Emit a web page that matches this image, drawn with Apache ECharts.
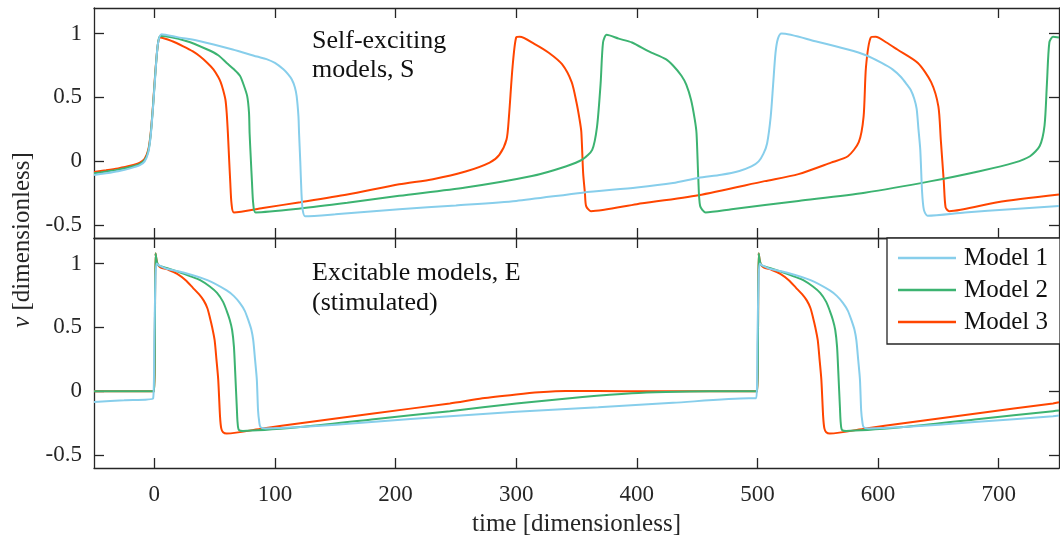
<!DOCTYPE html>
<html>
<head>
<meta charset="utf-8">
<script src="https://cdn.jsdelivr.net/npm/echarts@6/dist/echarts.min.js"></script>
<style>
  html, body { margin: 0; padding: 0; background: #fff; }
  #main { width: 1060px; height: 545px; }
</style>
</head>
<body>
<div id="main"></div>
<script>
// tick labels
var timeTicks = [0, 100, 200, 300, 400, 500, 600, 700];
var vTicks = [-0.5, 0, 0.5, 1];
var modelNames = ['Model 1', 'Model 2', 'Model 3'];
var modelColors = ['#87CEEB', '#3CB371', '#FF4500'];

// self-exciting models, S  [time, v]
var selfModel1 = [
	[-50,-0.107],[-40,-0.093],[-30,-0.077],[-20,-0.055],[-12,-0.03],[-8,0.0],[-5,0.07],[-3,0.2],[-1,0.43],[1,0.7],[3,0.92],[6,0.995],
	[20,0.97],[38,0.94],[65,0.875],[85,0.82],[93,0.80],[100,0.77],[107,0.72],[111,0.68],[114,0.64],[116.5,0.58],[118,0.51],[119.5,0.35],[120,0.22],[121,0.0],[122,-0.25],[123,-0.38],[125,-0.43],
	[150,-0.415],[203,-0.375],[250,-0.345],[300,-0.31],[355,-0.245],[400,-0.205],[430,-0.17],[451,-0.13],[470,-0.105],[485,-0.075],[495,-0.04],[501,0.0],[505,0.06],[508,0.14],[511,0.35],[513,0.6],[515,0.85],[517,0.96],[520,1.0],
	[548,0.94],[575,0.875],[590,0.83],[603,0.77],[612,0.72],[619,0.66],[624,0.6],[627,0.56],[630,0.49],[632,0.41],[633.5,0.25],[635,0.09],[636.5,-0.24],[638,-0.38],[641,-0.425],
	[672,-0.40],[710,-0.375],[750,-0.35]
];
var selfModel2 = [
	[-50,-0.094],[-40,-0.08],[-30,-0.065],[-20,-0.045],[-12,-0.02],[-8,0.01],[-5,0.08],[-3,0.21],[-1,0.44],[1,0.71],[3,0.92],[5,0.98],
	[27,0.94],[44,0.875],[53,0.83],[60,0.77],[66,0.72],[71,0.67],[74,0.6],[77,0.51],[78.5,0.38],[79,0.22],[80,0.02],[81,-0.17],[82,-0.33],[84,-0.40],
	[121,-0.37],[160,-0.325],[203,-0.27],[258,-0.205],[313,-0.115],[341,-0.04],[355,0.015],[363,0.09],[367,0.27],[370,0.61],[372,0.93],[375,0.99],
	[385,0.96],[396,0.93],[410,0.86],[424,0.8],[430,0.75],[437,0.67],[441,0.6],[445,0.48],[448,0.33],[449.5,0.22],[451,-0.14],[452.5,-0.35],[457,-0.40],
	[478.5,-0.375],[534,-0.31],[589,-0.245],[644,-0.155],[685,-0.075],[713,-0.01],[726,0.04],[734,0.12],[738,0.28],[740,0.61],[742,0.93],[745,0.975],[750,0.97]
];
var selfModel3 = [
	[-50,-0.083],[-40,-0.07],[-30,-0.055],[-20,-0.035],[-12,-0.01],[-8,0.02],[-5,0.09],[-3,0.22],[-1,0.45],[1,0.72],[3,0.92],[5,0.97],
	[15,0.94],[24,0.9],[32,0.86],[38,0.82],[44,0.77],[49,0.72],[53,0.66],[55,0.62],[57,0.56],[59,0.48],[60,0.38],[61,0.22],[62,0.02],[63,-0.17],[64,-0.33],[66,-0.40],
	[90,-0.365],[121,-0.32],[160,-0.26],[203,-0.18],[231,-0.14],[258,-0.08],[278,-0.01],[286,0.05],[292,0.17],[294,0.35],[297,0.74],[300,0.97],[303,0.975],
	[315,0.92],[327,0.85],[338,0.76],[346,0.62],[350,0.46],[352.5,0.33],[354,0.23],[355.5,-0.09],[357,-0.25],[358,-0.35],[362,-0.39],
	[400,-0.335],[451,-0.265],[506,-0.155],[534,-0.1],[561,-0.01],[575,0.04],[584,0.15],[588,0.35],[590,0.74],[594,0.97],[598,0.975],
	[607,0.93],[616,0.875],[633,0.77],[644,0.62],[650,0.43],[652,0.17],[654.5,-0.16],[656,-0.36],[659,-0.39],[699,-0.32],[750,-0.26]
];

// excitable models, E (stimulated at 0 and 500)
var excModel1 = [
	[-50,-0.083],[-25,-0.07],[-1,-0.055],[0,0.4],[1,0.9],[2,1.0],[4,0.985],[10,0.96],[24,0.93],[44,0.87],[60,0.79],[66,0.745],[71,0.69],[75,0.63],[78,0.555],[80.5,0.48],[82,0.40],[83.5,0.25],[85,0.09],[86,-0.15],[87,-0.24],[88,-0.28],[92,-0.29],
	[121,-0.28],[180,-0.24],[245,-0.195],[300,-0.16],[368,-0.125],[430,-0.09],[493,-0.055],[499,-0.055],
	[500,0.4],[501,0.9],[502,1.0],[504,0.985],[510,0.96],[524,0.93],[544,0.87],[560,0.79],[566,0.745],[571,0.69],[575,0.63],[578,0.555],[580.5,0.48],[582,0.40],[583.5,0.25],[585,0.09],[586,-0.15],[587,-0.24],[588,-0.28],[592,-0.29],
	[621,-0.28],[680,-0.24],[745,-0.195],[750,-0.19]
];
var excModel2 = [
	[-50,0],[0,0],[0.5,0.5],[1,1.08],[2,1.02],[3,0.99],[5,0.98],[12,0.96],[21.5,0.93],[30,0.9],[38,0.87],[46,0.82],[52,0.77],[57,0.7],[60,0.63],[62.5,0.56],[64.5,0.48],[66,0.35],[67,0.16],[68.5,-0.15],[69,-0.24],[70,-0.30],[73.5,-0.31],
	[121,-0.28],[180,-0.22],[245,-0.155],[300,-0.095],[355,-0.045],[396,-0.015],[424,-0.005],[460,0],[500,0],
	[500.5,0.5],[501,1.08],[502,1.02],[503,0.99],[505,0.98],[512,0.96],[521.5,0.93],[530,0.9],[538,0.87],[546,0.82],[552,0.77],[557,0.7],[560,0.63],[562.5,0.56],[564.5,0.48],[566,0.35],[567,0.16],[568.5,-0.15],[569,-0.24],[570,-0.30],[573.5,-0.31],
	[621,-0.28],[680,-0.22],[745,-0.155],[750,-0.15]
];
var excModel3 = [
	[-50,0],[0,0],[0.5,0.5],[1,1.08],[2,1.02],[3,0.99],[5,0.97],[12,0.95],[19,0.92],[26,0.87],[32,0.81],[37,0.76],[41,0.71],[44,0.65],[46,0.58],[48,0.5],[50,0.40],[51.5,0.25],[53,0.09],[54.5,-0.2],[55.5,-0.29],[57,-0.32],[60,-0.33],
	[90,-0.29],[121,-0.25],[180,-0.175],[245,-0.095],[272,-0.055],[300,-0.025],[319,-0.008],[341,0.003],[368,0.003],[410,0],[500,0],
	[500.5,0.5],[501,1.08],[502,1.02],[503,0.99],[505,0.97],[512,0.95],[519,0.92],[526,0.87],[532,0.81],[537,0.76],[541,0.71],[544,0.65],[546,0.58],[548,0.5],[550,0.40],[551.5,0.25],[553,0.09],[554.5,-0.2],[555.5,-0.29],[557,-0.32],[560,-0.33],
	[590,-0.29],[621,-0.25],[680,-0.175],[745,-0.095],[750,-0.085]
];

var FONT = '"Liberation Serif", "DejaVu Serif", serif';
var INK = '#262626';

function xAxisOf(grid, pos, labels) {
	return {
		type: 'value', gridIndex: grid, position: pos,
		min: -50, max: 750,
		axisLine: { show: true, onZero: false, lineStyle: { color: INK, width: 1.3 } },
		axisTick: { show: true, inside: true, length: 10, customValues: timeTicks, lineStyle: { color: INK, width: 1.3 } },
		axisLabel: { show: labels, customValues: timeTicks, margin: 15, color: INK, fontFamily: FONT, fontSize: 23 },
		splitLine: { show: false }
	};
}

function yAxisOf(grid, pos, labels) {
	return {
		type: 'value', gridIndex: grid, position: pos,
		min: -0.6, max: 1.2,
		axisLine: { show: true, onZero: false, lineStyle: { color: INK, width: 1.3 } },
		axisTick: { show: true, inside: true, length: 10, customValues: vTicks, lineStyle: { color: INK, width: 1.3 } },
		axisLabel: { show: labels, customValues: vTicks, margin: 12, color: INK, fontFamily: FONT, fontSize: 23 },
		splitLine: { show: false }
	};
}

function lineOf(idx, axis, data) {
	return {
		name: modelNames[idx], type: 'line',
		xAxisIndex: axis, yAxisIndex: axis,
		data: data, symbol: 'none',
		smooth: 0.25,
		lineStyle: { color: modelColors[idx], width: 2 },
		itemStyle: { color: modelColors[idx] }
	};
}

var xBottom = xAxisOf(1, 'bottom', true);
xBottom.name = 'time [dimensionless]';
xBottom.nameLocation = 'middle';
xBottom.nameGap = 44;
xBottom.nameTextStyle = { color: INK, fontFamily: FONT, fontSize: 25 };

var option = {
	animation: false,
	backgroundColor: '#fff',
	grid: [
		{ left: 94, right: 1, top: 8, height: 230 },
		{ left: 94, right: 1, top: 238, height: 230 }
	],
	xAxis: [
		xAxisOf(0, 'bottom', false),
		xAxisOf(0, 'top', false),
		xBottom,
		xAxisOf(1, 'top', false)
	],
	yAxis: [
		yAxisOf(0, 'left', true),
		yAxisOf(0, 'right', false),
		yAxisOf(1, 'left', true),
		yAxisOf(1, 'right', false)
	],
	legend: {
		data: modelNames,
		orient: 'vertical',
		left: 887, top: 238,
		icon: 'rect',
		itemWidth: 58, itemHeight: 2.5, itemGap: 4,
		padding: [6, 12, 8, 11],
		backgroundColor: '#fff',
		borderColor: INK, borderWidth: 1.3, borderRadius: 0,
		selectedMode: false,
		textStyle: { color: '#111', fontFamily: FONT, fontSize: 25, lineHeight: 28, padding: [0, 0, 0, 3] }
	},
	graphic: [
		{
			type: 'text', left: 312, top: 27,
			style: { text: 'Self-exciting\nmodels, S', fontFamily: FONT, fontSize: 26, lineHeight: 29, fill: '#111' }
		},
		{
			type: 'text', left: 312, top: 258,
			style: { text: 'Excitable models, E\n(stimulated)', fontFamily: FONT, fontSize: 26, lineHeight: 30, fill: '#111' }
		},
		{
			type: 'text', x: 22, y: 240, rotation: Math.PI / 2,
			style: {
				text: '{i|v} [dimensionless]', align: 'center', verticalAlign: 'middle',
				fontFamily: FONT, fontSize: 25, fill: INK,
				rich: { i: { fontFamily: FONT, fontSize: 25, fontStyle: 'italic', fill: INK } }
			}
		}
	],
	// model 3 first so model 1 ends up on top
	series: [
		lineOf(2, 0, selfModel3),
		lineOf(1, 0, selfModel2),
		lineOf(0, 0, selfModel1),
		lineOf(2, 2, excModel3),
		lineOf(1, 2, excModel2),
		lineOf(0, 2, excModel1)
	]
};

var myChart = echarts.init(document.getElementById('main'));
myChart.setOption(option);
</script>
</body>
</html>
